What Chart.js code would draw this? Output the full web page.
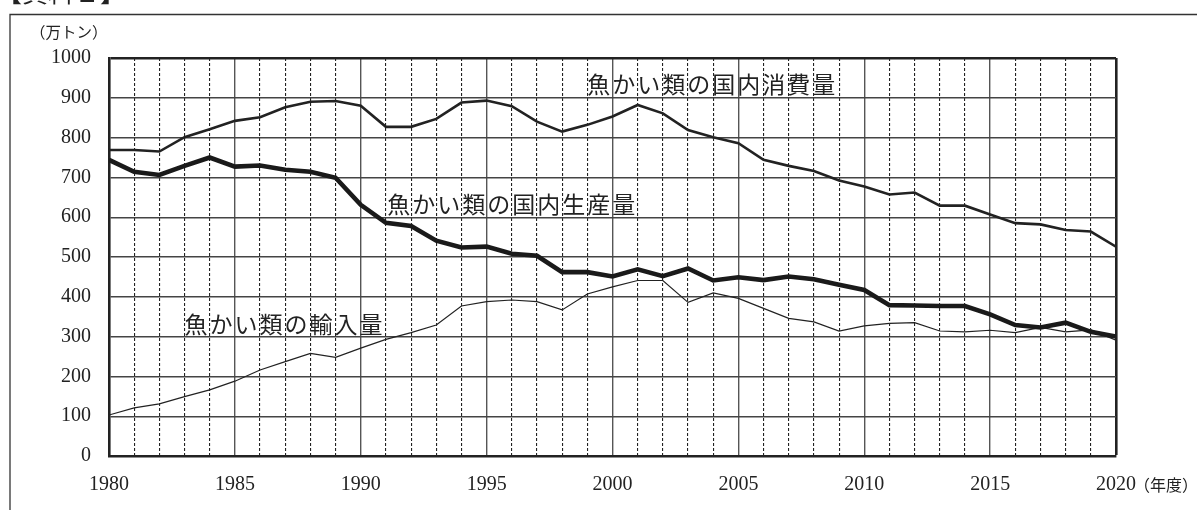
<!DOCTYPE html>
<html><head><meta charset="utf-8">
<script src="https://cdn.jsdelivr.net/npm/chart.js@4.4.1/dist/chart.umd.min.js"></script>
<style>html,body{margin:0;padding:0;background:#fff;overflow:hidden}#wrap{width:1197px;height:510px}</style>
</head><body><div id="wrap"><canvas id="c" width="1197" height="510"></canvas></div>
<script>
const years = [1980,1981,1982,1983,1984,1985,1986,1987,1988,1989,1990,1991,1992,1993,1994,1995,1996,1997,1998,1999,2000,2001,2002,2003,2004,2005,2006,2007,2008,2009,2010,2011,2012,2013,2014,2015,2016,2017,2018,2019,2020];
const consumption = [769,769,765,801,821,842,851,876,890,892,880,827,827,847,888,893,879,840,815,832,853,882,861,819,801,786,744,729,716,692,677,657,662,629,629,607,585,582,568,564,526];
const production  = [744,714,706,729,750,727,730,719,714,699,631,586,578,541,524,526,508,503,462,462,451,469,452,471,441,449,442,451,444,430,417,379,378,377,377,356,329,323,335,312,300];
const imports     = [103,121,131,149,166,188,216,237,258,248,271,293,310,329,377,388,392,388,367,407,425,441,441,386,410,396,371,346,337,314,327,333,335,314,312,316,310,323,312,317,291];
const yTicks = [0,100,200,300,400,500,600,700,800,900,1000];
const xLabelYears = [1980,1985,1990,1995,2000,2005,2010,2015,2020];
const seriesNames = ['魚かい類の国内消費量','魚かい類の国内生産量','魚かい類の輸入量'];
const labelAnchors = [[1999.0,935],[1991.05,633],[1983.0,332]];
const unitY = '（万トン）';
const unitX = '（年度）';
const title = '【資料１】';

const ink = '#222';
const serif = '"Liberation Serif","DejaVu Serif",serif';
const jp = '"Noto Sans CJK JP","Noto Sans CJK SC",sans-serif';

const toXY = arr => arr.map((v,i)=>({x:years[i], y:v}));

const decor = {
  id:'decor',
  beforeDraw(chart){
    const ctx = chart.ctx;
    ctx.save();
    ctx.fillStyle='#fff'; ctx.fillRect(0,0,chart.width,chart.height);
    ctx.strokeStyle='#333'; ctx.lineWidth=1.3;
    ctx.beginPath(); ctx.moveTo(10,520); ctx.lineTo(10,14.5); ctx.lineTo(1210,14.5); ctx.stroke();
    ctx.fillStyle=ink; ctx.font='26px '+jp; ctx.textBaseline='alphabetic'; ctx.textAlign='left';
    ctx.fillText(title,-4,2);
    ctx.font='15.5px '+jp; ctx.textBaseline='middle';
    ctx.fillText(unitY,30,32);
    ctx.restore();
  },
  afterDraw(chart){
    const ctx = chart.ctx, xs = chart.scales.x, ys = chart.scales.y;
    ctx.save();
    ctx.fillStyle=ink; ctx.textAlign='left'; ctx.textBaseline='middle';
    ctx.font='23px '+jp;
    ctx.letterSpacing='2px';
    seriesNames.forEach((t,i)=>{
      ctx.fillText(t, xs.getPixelForValue(labelAnchors[i][0]), ys.getPixelForValue(labelAnchors[i][1]));
    });
    ctx.letterSpacing='0px';
    ctx.font='16px '+jp;
    ctx.fillText(unitX, xs.getPixelForValue(2020)+18, 485);
    ctx.restore();
  }
};

new Chart(document.getElementById('c'), {
  type:'line',
  data:{datasets:[
    {label:seriesNames[0], data:toXY(consumption), borderColor:ink, borderWidth:2.6, pointRadius:0, tension:0},
    {label:seriesNames[1], data:toXY(production), borderColor:'#1a1a1a', borderWidth:4.6, pointRadius:0, tension:0},
    {label:seriesNames[2], data:toXY(imports), borderColor:ink, borderWidth:1.2, pointRadius:0, tension:0}
  ]},
  options:{
    responsive:false, animation:false, devicePixelRatio:1,
    layout:{padding:{left:0, top:58, right:81, bottom:0}},
    plugins:{legend:{display:false}, tooltip:{enabled:false}},
    scales:{
      x:{type:'linear', min:1980, max:2020,
        afterBuildTicks(s){ s.ticks = years.map(v=>({value:v})); },
        afterFit(s){ s.height = 54; },
        ticks:{autoSkip:false, maxRotation:0, padding:17, color:ink, font:{family:serif, size:20},
          callback:v=> xLabelYears.includes(v) ? String(v) : ''},
        grid:{drawTicks:false,
          color:c=> (c.tick && c.tick.value===2020) ? ink : (c.tick && c.tick.value%5===0 ? '#555' : '#222'),
          lineWidth:c=> (c.tick && c.tick.value===2020) ? 2.6 : (c.tick && c.tick.value%5===0 ? 1.4 : 1.1)},
        border:{display:true, color:ink, width:2.6,
          dash:c=> (c.type==='tick' && c.tick && c.tick.value%5!==0) ? [3,2] : []}
      },
      y:{min:0, max:1000,
        afterBuildTicks(s){ s.ticks = yTicks.map(v=>({value:v})); },
        afterFit(s){ s.width = 109; },
        ticks:{padding:18, color:ink, font:{family:serif, size:20}, callback:v=>String(v)},
        grid:{drawTicks:false,
          color:c=> (c.tick && c.tick.value===1000) ? ink : '#444',
          lineWidth:c=> (c.tick && c.tick.value===1000) ? 2.6 : 1.4},
        border:{display:true, color:ink, width:2.6}
      }
    }
  },
  plugins:[decor]
});
</script></body></html>
